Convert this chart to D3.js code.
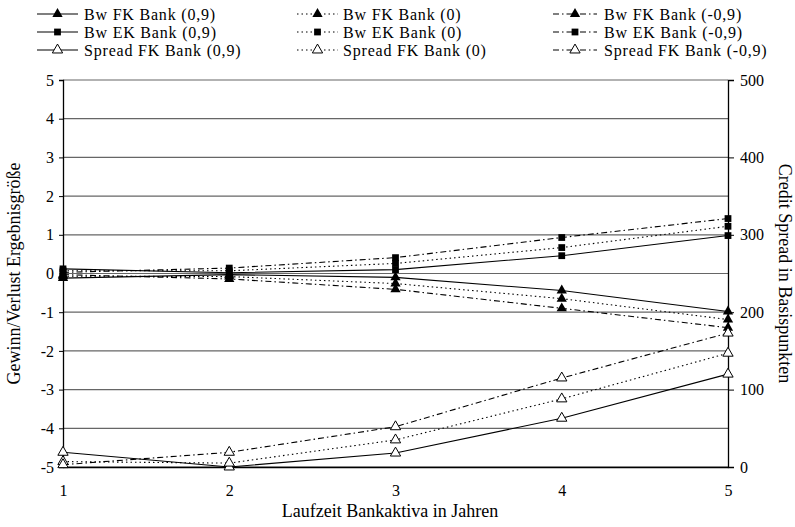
<!DOCTYPE html>
<html>
<head>
<meta charset="utf-8">
<script src="https://cdn.jsdelivr.net/npm/d3@7"></script>
<style>
  body { margin: 0; background: #fff; }
  svg { display: block; }
</style>
</head>
<body>
<svg id="chart" width="795" height="527"></svg>
<script>
// Laufzeit der Bankaktiva (Jahre)
const years = [1, 2, 3, 4, 5];

// Barwert-Gewinn/-Verlust (linke Achse)
const bwFK_p09 = [-0.12, -0.03, -0.10, -0.44, -0.98];
const bwFK_0   = [-0.07, -0.08, -0.26, -0.65, -1.19];
const bwFK_m09 = [-0.03, -0.14, -0.41, -0.90, -1.40];
const bwEK_p09 = [0.12, 0.02, 0.10, 0.46, 0.98];
const bwEK_0   = [0.07, 0.07, 0.26, 0.67, 1.22];
const bwEK_m09 = [0.03, 0.14, 0.41, 0.93, 1.42];

// Credit Spread in Basispunkten (rechte Achse)
const spread_p09 = [19, 0, 18, 63, 120];
const spread_0   = [7, 5, 35, 88, 147];
const spread_m09 = [3, 19, 52, 115, 173];

const leftTicks = [-5, -4, -3, -2, -1, 0, 1, 2, 3, 4, 5];
const rightTicks = [0, 100, 200, 300, 400, 500];

const SERIF = '"Liberation Serif", "Times New Roman", "DejaVu Serif", serif';

const series = [
  { name: "Bw FK Bank (0,9)",       values: bwFK_p09,   axis: "L", marker: "tri",  dash: null },
  { name: "Bw FK Bank (0)",         values: bwFK_0,     axis: "L", marker: "tri",  dash: "1.5,3" },
  { name: "Bw FK Bank (-0,9)",      values: bwFK_m09,   axis: "L", marker: "tri",  dash: "6,3,1.5,3" },
  { name: "Bw EK Bank (0,9)",       values: bwEK_p09,   axis: "L", marker: "sq",   dash: null },
  { name: "Bw EK Bank (0)",         values: bwEK_0,     axis: "L", marker: "sq",   dash: "1.5,3" },
  { name: "Bw EK Bank (-0,9)",      values: bwEK_m09,   axis: "L", marker: "sq",   dash: "6,3,1.5,3" },
  { name: "Spread FK Bank (0,9)",   values: spread_p09, axis: "R", marker: "otri", dash: null },
  { name: "Spread FK Bank (0)",     values: spread_0,   axis: "R", marker: "otri", dash: "1.5,3" },
  { name: "Spread FK Bank (-0,9)",  values: spread_m09, axis: "R", marker: "otri", dash: "6,3,1.5,3" }
];

const svg = d3.select("#chart");
const plot = { left: 63, right: 728, top: 80, bottom: 467 };

const x = d3.scaleLinear().domain([1, 5]).range([plot.left, plot.right]);
const yL = d3.scaleLinear().domain([-5, 5]).range([plot.bottom, plot.top]);
const yR = d3.scaleLinear().domain([0, 500]).range([plot.bottom, plot.top]);

// horizontal gridlines
svg.append("g")
  .selectAll("line")
  .data(leftTicks)
  .join("line")
  .attr("x1", plot.left).attr("x2", plot.right)
  .attr("y1", d => yL(d)).attr("y2", d => yL(d))
  .attr("stroke", "#666").attr("stroke-width", 1.2);

// plain hyphen-minus for negative numbers
const fmtInt = d => String(d);

// left axis
const axL = svg.append("g")
  .attr("transform", `translate(${plot.left},0)`)
  .call(d3.axisLeft(yL).tickValues(leftTicks).tickSize(4).tickPadding(5).tickFormat(fmtInt));
// right axis
const axR = svg.append("g")
  .attr("transform", `translate(${plot.right},0)`)
  .call(d3.axisRight(yR).tickValues(rightTicks).tickSize(6).tickPadding(6).tickFormat(fmtInt));
// bottom axis
const axB = svg.append("g")
  .attr("transform", `translate(0,${plot.bottom})`)
  .call(d3.axisBottom(x).tickValues(years).tickSize(0).tickPadding(18).tickFormat(fmtInt));

[axL, axR, axB].forEach(a => {
  a.attr("font-family", null).attr("font-size", null);
  a.select(".domain").attr("stroke", "#000").attr("stroke-width", 1.3);
  a.selectAll(".tick line").attr("stroke", "#000");
  a.selectAll(".tick text")
    .style("font-family", SERIF).style("font-size", "16px").attr("fill", "#000");
});

// axis titles
function title(sel) {
  return sel.style("font-family", SERIF).style("font-size", "18px").attr("fill", "#000");
}
title(svg.append("text"))
  .attr("x", 390).attr("y", 517)
  .attr("text-anchor", "middle")
  .text("Laufzeit Bankaktiva in Jahren");
title(svg.append("text"))
  .attr("transform", `translate(16,${(plot.top + plot.bottom) / 2}) rotate(-90)`)
  .attr("text-anchor", "middle").attr("dominant-baseline", "middle")
  .text("Gewinn/Verlust Ergebnisgröße");
title(svg.append("text"))
  .attr("transform", `translate(783,${(plot.top + plot.bottom) / 2}) rotate(90)`)
  .attr("text-anchor", "middle").attr("dominant-baseline", "middle")
  .text("Credit Spread in Basispunkten");

// markers
const triSym = d3.symbol().type(d3.symbolTriangle).size(46);
const sqSym = d3.symbol().type(d3.symbolSquare).size(46);
function drawMarker(g, kind, cx, cy) {
  if (kind === "sq") {
    g.append("path").attr("d", sqSym()).attr("transform", `translate(${cx},${cy})`).attr("fill", "#000");
  } else if (kind === "tri") {
    g.append("path").attr("d", triSym()).attr("transform", `translate(${cx},${cy})`).attr("fill", "#000");
  } else {
    g.append("path").attr("d", triSym()).attr("transform", `translate(${cx},${cy})`)
      .attr("fill", "#fff").attr("stroke", "#000").attr("stroke-width", 1);
  }
}

// series lines and markers
const lineG = svg.append("g");
series.forEach(s => {
  const yS = s.axis === "L" ? yL : yR;
  const line = d3.line().x((d, i) => x(years[i])).y(d => yS(d));
  lineG.append("path")
    .datum(s.values)
    .attr("d", line)
    .attr("fill", "none")
    .attr("stroke", "#000")
    .attr("stroke-width", 1.1)
    .attr("stroke-dasharray", s.dash);
});
series.forEach(s => {
  const yS = s.axis === "L" ? yL : yR;
  s.values.forEach((v, i) => drawMarker(lineG, s.marker, x(years[i]), yS(v)));
});

// legend (3 columns x 3 rows)
const legCols = [{ x0: 37, x1: 78, tx: 84 }, { x0: 297, x1: 338, tx: 343 }, { x0: 553, x1: 597, tx: 604 }];
const legRows = [14, 32, 50];
const legOrder = [
  [series[0], series[1], series[2]],
  [series[3], series[4], series[5]],
  [series[6], series[7], series[8]]
];
const leg = svg.append("g");
legOrder.forEach((row, ri) => {
  row.forEach((s, ci) => {
    const c = legCols[ci], yy = legRows[ri];
    leg.append("line")
      .attr("x1", c.x0).attr("x2", c.x1).attr("y1", yy).attr("y2", yy)
      .attr("stroke", "#000").attr("stroke-width", 1.1)
      .attr("stroke-dasharray", s.dash);
    drawMarker(leg, s.marker, (c.x0 + c.x1) / 2, yy);
    leg.append("text")
      .attr("x", c.tx).attr("y", yy)
      .attr("dominant-baseline", "central")
      .style("font-family", SERIF).style("font-size", "16px")
      .style("letter-spacing", "0.8px").attr("fill", "#000")
      .text(s.name);
  });
});
</script>
</body>
</html>
